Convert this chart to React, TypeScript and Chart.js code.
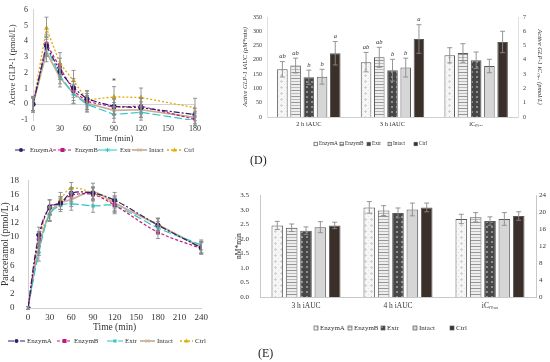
import React, { useEffect, useRef } from "react";
import { Chart, registerables } from "chart.js";
Chart.register(...registerables);

const FONT = "'Liberation Serif', 'Times New Roman', serif";
const TXT = "#333333";

const SERIES = ["EnzymA", "EnzymB", "Extr", "Intact", "Ctrl"];

// ---- Panel C: active GLP-1 (pmol/L) over time
const glpTimes = [0, 15, 30, 45, 60, 90, 120, 180];
const glpEnzymA = [0, 3.72, 2.07, 1.04, 0.33, -0.14, -0.22, -0.65];
const glpEnzymB = [0, 3.85, 2.33, 0.84, 0.18, -0.18, -0.12, -0.96];
const glpExtr = [0, 3.64, 1.8, 0.63, 0.0, -0.65, -0.51, -1.04];
const glpIntact = [0, 3.3, 1.7, 0.67, 0.06, -0.39, -0.35, -0.84];
const glpCtrl = [0, 4.83, 2.58, 1.5, 0.27, 0.47, 0.43, -0.22];
const glpEnzymAErr = [0.5, 0.6, 0.5, 0.6, 0.5, 0.5, 0.6, 0.4];
const glpEnzymBErr = [0.4, 0.6, 0.6, 0.6, 0.5, 0.5, 0.5, 0.4];
const glpExtrErr = [0.4, 0.6, 0.5, 0.6, 0.5, 0.5, 0.5, 0.3];
const glpIntactErr = [0.4, 0.6, 0.6, 0.6, 0.5, 0.5, 0.5, 0.4];
const glpCtrlErr = [0.5, 0.7, 0.7, 0.65, 0.6, 0.65, 0.6, 0.6];

// ---- Panel E (line): paracetamol (pmol/L) over time
const parTimes = [0, 15, 30, 45, 60, 90, 120, 180, 240];
const parEnzymA = [0, 10.3, 14.2, 14.8, 16.2, 16.2, 15.2, 11.7, 8.5];
const parEnzymB = [0, 9.7, 14.3, 14.8, 15.9, 16.0, 14.5, 10.7, 8.4];
const parExtr = [0, 7.8, 13.2, 14.5, 14.7, 14.4, 14.4, 11.3, 8.9];
const parIntact = [0, 8.5, 13.3, 14.8, 15.3, 16.4, 14.8, 11.7, 8.6];
const parCtrl = [0, 9.8, 13.2, 15.3, 16.9, 16.2, 14.7, 11.8, 8.5];
const parEnzymAErr = [0.2, 1.1, 1.0, 0.9, 0.8, 0.8, 1.1, 0.9, 0.9];
const parEnzymBErr = [0.2, 1.0, 1.0, 0.9, 0.9, 0.9, 1.0, 0.9, 0.8];
const parExtrErr = [0.2, 1.2, 0.9, 0.9, 0.9, 0.9, 1.1, 0.9, 0.7];
const parIntactErr = [0.2, 1.1, 1.0, 0.9, 1.0, 1.2, 1.0, 0.9, 0.8];
const parCtrlErr = [0.2, 1.0, 1.0, 1.0, 0.8, 0.9, 1.1, 0.9, 0.8];

// ---- Panel D (bars): active GLP-1 iAUC (left axis) and iCmax (right axis)
const dCategories = ["2 h iAUC", "3 h iAUC", "iCₘₐₓ"];
const dAuc2h = [167, 180, 139, 141, 223];
const dAuc2hErr = [27, 26, 25, 26, 41];
const dAuc3h = [192, 209, 164, 173, 273];
const dAuc3hErr = [34, 35, 38, 33, 50];
const dCmax = [4.32, 4.48, 3.97, 3.57, 5.25];
const dCmaxErr = [0.53, 0.65, 0.58, 0.47, 0.75];
const dLetters2h = ["ab", "ab", "b", "b", "a"];
const dLetters3h = ["ab", "ab", "b", "b", "a"];

// ---- Panel E (bars): paracetamol iAUC (left axis) and iCmax (right axis)
const eCategories = ["3 h iAUC", "4 h iAUC", "iCₘₐₓ"];
const eAuc3h = [2.46, 2.38, 2.28, 2.4, 2.46];
const eAuc3hErr = [0.14, 0.13, 0.13, 0.19, 0.11];
const eAuc4h = [3.08, 2.97, 2.89, 3.01, 3.08];
const eAuc4hErr = [0.2, 0.17, 0.17, 0.22, 0.15];
const eCmax = [18.4, 18.8, 17.9, 18.4, 19.1];
const eCmaxErr = [1.1, 1.1, 1.0, 1.5, 1.0];

// ---- styles
const COLORS = ["#2e1e6b", "#c0187f", "#2fc6c6", "#c6ae95", "#e2aa00"];
const DASHES = [[6, 2, 2, 2], [3, 2], [8, 3], [], [2, 2]];
const MARKERS = ["circle", "rect", "star", "crossRot", "triangle"];
const WIDTHS = [1.2, 1.2, 1.2, 1.7, 1.3];

function font(size: number, style = "normal") {
  return { family: FONT, size, style, lineHeight: 1.2 };
}

function drawMarker(ctx: any, style: string, x: number, y: number, r: number, color: string) {
  ctx.save();
  ctx.setLineDash([]);
  ctx.fillStyle = color;
  ctx.strokeStyle = color;
  ctx.lineWidth = 1;
  ctx.beginPath();
  if (style === "circle") {
    ctx.arc(x, y, r, 0, Math.PI * 2);
    ctx.fill();
  } else if (style === "rect") {
    ctx.fillRect(x - r, y - r, 2 * r, 2 * r);
  } else if (style === "triangle") {
    ctx.moveTo(x, y - r * 1.2);
    ctx.lineTo(x + r * 1.1, y + r * 0.8);
    ctx.lineTo(x - r * 1.1, y + r * 0.8);
    ctx.closePath();
    ctx.fill();
  } else if (style === "star") {
    ctx.moveTo(x - r, y); ctx.lineTo(x + r, y);
    ctx.moveTo(x, y - r); ctx.lineTo(x, y + r);
    const d = r * 0.7;
    ctx.moveTo(x - d, y - d); ctx.lineTo(x + d, y + d);
    ctx.moveTo(x - d, y + d); ctx.lineTo(x + d, y - d);
    ctx.stroke();
  } else {
    const d = r * 0.9;
    ctx.moveTo(x - d, y - d); ctx.lineTo(x + d, y + d);
    ctx.moveTo(x - d, y + d); ctx.lineTo(x + d, y - d);
    ctx.stroke();
  }
  ctx.restore();
}

function makePatterns(): any[] {
  const mk = (w: number, h: number, draw: (x: CanvasRenderingContext2D) => void) => {
    const c = document.createElement("canvas");
    c.width = w; c.height = h;
    const x = c.getContext("2d")!;
    draw(x);
    return x.createPattern(c, "repeat");
  };
  const a = mk(6, 6, (x) => {
    x.fillStyle = "#f6f6f6"; x.fillRect(0, 0, 6, 6);
    x.fillStyle = "#d2d2d2";
    x.fillRect(3, 2, 1, 1); x.fillRect(2, 3, 3, 1); x.fillRect(3, 4, 1, 1);
    x.fillStyle = "#e4e4e4";
    x.fillRect(0, 0, 1, 1);
  });
  const b = mk(4, 6, (x) => {
    x.fillStyle = "#eeeeee"; x.fillRect(0, 0, 4, 6);
    x.fillStyle = "#959595"; x.fillRect(0, 0, 4, 1);
    x.fillStyle = "#bababa"; x.fillRect(0, 3, 4, 1);
  });
  const c = mk(5, 5, (x) => {
    x.fillStyle = "#474747"; x.fillRect(0, 0, 5, 5);
    x.fillStyle = "#8e8e8e"; x.fillRect(1, 1, 2, 2);
  });
  return [a, b, c, "#d6d6d6", "#3a2f29"];
}

// error bars from dataset "errors" arrays
const errorBarPlugin = {
  id: "errbars",
  afterDatasetsDraw(chart: any) {
    const ctx = chart.ctx;
    const cap = chart.options.plugins.errbars?.cap ?? 2;
    ctx.save();
    ctx.strokeStyle = "#8a8a8a";
    ctx.lineWidth = 0.9;
    ctx.setLineDash([]);
    chart.data.datasets.forEach((ds: any, di: number) => {
      if (!ds.errors) return;
      const meta = chart.getDatasetMeta(di);
      const ys = chart.scales[meta.yAxisID];
      meta.data.forEach((el: any, i: number) => {
        const raw = ds.data[i];
        const v = raw == null ? null : typeof raw === "number" ? raw : raw.y;
        const e = ds.errors[i];
        if (v == null || e == null) return;
        const x = el.x;
        const yt = ys.getPixelForValue(v + e);
        const yb = ys.getPixelForValue(v - e);
        ctx.beginPath();
        ctx.moveTo(x, yt); ctx.lineTo(x, yb);
        ctx.moveTo(x - cap, yt); ctx.lineTo(x + cap, yt);
        ctx.moveTo(x - cap, yb); ctx.lineTo(x + cap, yb);
        ctx.stroke();
        if (ds.letters && ds.letters[i]) {
          ctx.save();
          ctx.fillStyle = TXT;
          ctx.font = `italic 6.5px ${FONT}`;
          ctx.textAlign = "center";
          ctx.textBaseline = "bottom";
          ctx.fillText(ds.letters[i], x, yt - 2);
          ctx.restore();
        }
      });
    });
    ctx.restore();
  },
};

function lineLegend(ctx: any, y: number, items: number[][], size: number) {
  SERIES.forEach((name, i) => {
    const [x1, x2, tx] = items[i];
    ctx.save();
    ctx.strokeStyle = COLORS[i];
    ctx.lineWidth = WIDTHS[i];
    ctx.setLineDash(DASHES[i]);
    ctx.beginPath();
    ctx.moveTo(x1, y); ctx.lineTo(x2, y);
    ctx.stroke();
    ctx.restore();
    drawMarker(ctx, MARKERS[i], (x1 + x2) / 2, y, 2, COLORS[i]);
    ctx.save();
    ctx.fillStyle = TXT;
    ctx.font = `${size}px ${FONT}`;
    ctx.textBaseline = "middle";
    ctx.fillText(name, tx, y);
    ctx.restore();
  });
}

function barLegend(ctx: any, y: number, xs: number[], size: number, box: number, off: number, pats: any[]) {
  SERIES.forEach((name, i) => {
    const x = xs[i];
    ctx.save();
    ctx.fillStyle = pats[i];
    ctx.fillRect(x, y - box / 2, box, box);
    ctx.strokeStyle = "#5a5a5a";
    ctx.lineWidth = 0.7;
    ctx.strokeRect(x, y - box / 2, box, box);
    ctx.fillStyle = TXT;
    ctx.font = `${size}px ${FONT}`;
    ctx.textBaseline = "middle";
    ctx.fillText(name, x + off, y);
    ctx.restore();
  });
}

function lineDatasets(times: number[], series: number[][], errs: number[][], tension: number) {
  return SERIES.map((name, i) => ({
    label: name,
    data: times.map((t, j) => ({ x: t, y: series[i][j] })),
    errors: errs[i],
    borderColor: COLORS[i],
    backgroundColor: COLORS[i],
    borderDash: DASHES[i],
    borderWidth: WIDTHS[i],
    pointStyle: MARKERS[i],
    pointRadius: 2.2,
    pointBorderWidth: 1,
    tension,
  }));
}

function configC(): any {
  return {
    type: "line",
    data: {
      datasets: lineDatasets(
        glpTimes,
        [glpEnzymA, glpEnzymB, glpExtr, glpIntact, glpCtrl],
        [glpEnzymAErr, glpEnzymBErr, glpExtrErr, glpIntactErr, glpCtrlErr],
        0
      ),
    },
    options: {
      animation: false,
      responsive: true,
      maintainAspectRatio: false,
      layout: { padding: { left: 8, top: 6, right: 15, bottom: 18 } },
      plugins: { legend: { display: false }, tooltip: { enabled: false }, errbars: { cap: 2 } },
      scales: {
        x: {
          type: "linear", min: 0, max: 180,
          ticks: { stepSize: 30, font: font(8), color: TXT, padding: 4, autoSkip: false },
          grid: { display: false, drawTicks: false },
          border: { display: false },
          title: { display: true, text: "Time (min)", font: font(8.5), color: TXT, padding: 0 },
          afterFit: (s: any) => { s.height = 24; },
        },
        y: {
          min: -1, max: 6,
          ticks: { stepSize: 1, font: font(8), color: TXT, padding: 5, autoSkip: false },
          grid: { drawTicks: false, color: (c: any) => (c.tick && c.tick.value === 0 ? "#d4d4d4" : "rgba(0,0,0,0)") },
          border: { display: true, color: "#d4d4d4" },
          title: { display: true, text: "Active GLP-1 (pmol/L)", font: font(8.5), color: TXT, padding: 0 },
          afterFit: (s: any) => { s.width = 25; },
        },
      },
    },
    plugins: [
      errorBarPlugin,
      {
        id: "decoC",
        afterDraw(chart: any) {
          const ctx = chart.ctx;
          lineLegend(ctx, 150, [[15, 27, 30], [53, 72, 75], [98, 117, 120], [132, 147, 149], [167, 182, 184]], 6.5);
          const xs = chart.scales.x, ys = chart.scales.y;
          ctx.save();
          ctx.fillStyle = TXT;
          ctx.font = `8px ${FONT}`;
          ctx.textAlign = "center";
          ctx.textBaseline = "middle";
          ctx.fillText("*", xs.getPixelForValue(90), ys.getPixelForValue(1.45));
          ctx.restore();
        },
      },
    ],
  };
}

function configEL(): any {
  return {
    type: "line",
    data: {
      datasets: lineDatasets(
        parTimes,
        [parEnzymA, parEnzymB, parExtr, parIntact, parCtrl],
        [parEnzymAErr, parEnzymBErr, parExtrErr, parIntactErr, parCtrlErr],
        0.35
      ),
    },
    options: {
      animation: false,
      responsive: true,
      maintainAspectRatio: false,
      layout: { padding: { left: 10, top: 10, right: 8, bottom: 29 } },
      plugins: { legend: { display: false }, tooltip: { enabled: false }, errbars: { cap: 2 } },
      scales: {
        x: {
          type: "linear", min: 0, max: 240,
          ticks: { stepSize: 30, font: font(9), color: TXT, padding: 4, autoSkip: false },
          grid: { display: false, drawTicks: false },
          border: { display: true, color: "#cfcfcf" },
          title: { display: true, text: "Time (min)", font: font(9.5), color: TXT, padding: 0 },
          afterFit: (s: any) => { s.height = 25; },
        },
        y: {
          min: 0, max: 18,
          ticks: { stepSize: 2, font: font(9), color: TXT, padding: 5, crossAlign: "far", autoSkip: false },
          grid: { display: false, drawTicks: false },
          border: { display: true, color: "#cfcfcf" },
          afterFit: (s: any) => { s.width = 18; },
        },
      },
    },
    plugins: [
      errorBarPlugin,
      {
        id: "decoEL",
        afterDraw(chart: any) {
          const ctx = chart.ctx;
          lineLegend(ctx, 171, [[8, 25, 27], [57, 72, 74], [107, 123, 125], [140, 155, 157], [180, 193, 195]], 7);
          const a = chart.chartArea;
          ctx.save();
          ctx.translate(5.5, (a.top + a.bottom) / 2);
          ctx.rotate(-Math.PI / 2);
          ctx.fillStyle = TXT;
          ctx.font = `9.5px ${FONT}`;
          ctx.textAlign = "center";
          ctx.textBaseline = "middle";
          ctx.fillText("Paracetamol (pmol/L)", 0, 0);
          ctx.restore();
        },
      },
    ],
  };
}

function barDatasets(pats: any[], v1: number[], e1: number[], v2: number[], e2: number[], v3: number[], e3: number[], l1: any[] | null, l2: any[] | null, barPct: number, catPct: number) {
  const common = (i: number) => ({
    backgroundColor: pats[i],
    borderColor: "#5a5a5a",
    borderWidth: 1,
    skipNull: true,
    barPercentage: barPct,
    categoryPercentage: catPct,
  });
  return [
    ...SERIES.map((name, i) => ({
      label: name,
      yAxisID: "y",
      data: [v1[i], v2[i], null],
      errors: [e1[i], e2[i], null],
      letters: l1 && l2 ? [l1[i], l2[i], null] : null,
      ...common(i),
    })),
    ...SERIES.map((name, i) => ({
      label: name,
      yAxisID: "y1",
      data: [null, null, v3[i]],
      errors: [null, null, e3[i]],
      ...common(i),
    })),
  ];
}

function configD(pats: any[]): any {
  return {
    type: "bar",
    data: {
      labels: dCategories,
      datasets: barDatasets(pats, dAuc2h, dAuc2hErr, dAuc3h, dAuc3hErr, dCmax, dCmaxErr, dLetters2h, dLetters3h, 0.8, 0.79),
    },
    options: {
      animation: false,
      responsive: true,
      maintainAspectRatio: false,
      layout: { padding: { left: 11, top: 17, right: 6, bottom: 43 } },
      plugins: { legend: { display: false }, tooltip: { enabled: false }, errbars: { cap: 2.5 } },
      scales: {
        x: {
          ticks: { font: font(6.5), color: TXT, padding: 3 },
          grid: { display: false, drawTicks: false },
          border: { display: true, color: "#d0d0d0" },
          afterFit: (s: any) => { s.height = 12; },
        },
        y: {
          position: "left", min: 0, max: 350,
          ticks: { stepSize: 50, font: font(6), color: TXT, padding: 5, autoSkip: false },
          grid: { display: false, drawTicks: false },
          border: { display: true, color: "#e0e0e0" },
          title: { display: true, text: "Active GLP-1 iAUC (pM*min)", font: font(6.5, "italic"), color: TXT, padding: 0 },
          afterFit: (s: any) => { s.width = 26; },
        },
        y1: {
          position: "right", min: 0, max: 7,
          ticks: { stepSize: 1, font: font(6), color: TXT, padding: 5, autoSkip: false },
          grid: { display: false, drawTicks: false },
          border: { display: true, color: "#e0e0e0" },
          title: { display: true, text: "Active GLP-1 iCₘₐₓ (pmol/L)", font: font(6.5, "italic"), color: TXT, padding: 0 },
          afterFit: (s: any) => { s.width = 26; },
        },
      },
    },
    plugins: [
      errorBarPlugin,
      {
        id: "decoD",
        afterDraw(chart: any) {
          const ctx = chart.ctx;
          barLegend(ctx, 144, [84, 110, 137, 158, 184], 5.3, 3.5, 5, pats);
          ctx.save();
          ctx.fillStyle = "#222";
          ctx.font = `12px ${FONT}`;
          ctx.textBaseline = "middle";
          ctx.fillText("(D)", 20, 161);
          ctx.restore();
        },
      },
    ],
  };
}

function configEB(pats: any[]): any {
  return {
    type: "bar",
    data: {
      labels: eCategories,
      datasets: barDatasets(pats, eAuc3h, eAuc3hErr, eAuc4h, eAuc4hErr, eCmax, eCmaxErr, null, null, 0.81, 0.78),
    },
    options: {
      animation: false,
      responsive: true,
      maintainAspectRatio: false,
      layout: { padding: { left: 4.5, top: 13, right: 0, bottom: 51 } },
      plugins: { legend: { display: false }, tooltip: { enabled: false }, errbars: { cap: 2.5 } },
      scales: {
        x: {
          ticks: { font: font(7.5), color: TXT, padding: 5 },
          grid: { display: false, drawTicks: false },
          border: { display: true, color: "#c8c8c8" },
          afterFit: (s: any) => { s.height = 14; },
        },
        y: {
          position: "left", min: 0, max: 3.5,
          ticks: { stepSize: 0.5, font: font(7), color: TXT, padding: 11, autoSkip: false, callback: (v: any) => Number(v).toFixed(1) },
          grid: { display: false, drawTicks: false },
          border: { display: true, color: "#c8c8c8" },
          title: { display: true, text: "nM*min", font: font(7.5), color: TXT, padding: 0 },
          afterFit: (s: any) => { s.width = 25.5; },
        },
        y1: {
          position: "right", min: 0, max: 24,
          ticks: { stepSize: 4, font: font(7), color: TXT, padding: 3, autoSkip: false },
          grid: { display: false, drawTicks: false },
          border: { display: true, color: "#c8c8c8" },
          afterFit: (s: any) => { s.width = 14; },
        },
      },
    },
    plugins: [
      errorBarPlugin,
      {
        id: "decoEB",
        afterDraw(chart: any) {
          const ctx = chart.ctx;
          barLegend(ctx, 148, [84, 118, 151, 183, 220], 7, 4, 6, pats);
          ctx.save();
          ctx.fillStyle = "#222";
          ctx.font = `12px ${FONT}`;
          ctx.textBaseline = "middle";
          ctx.fillText("(E)", 28, 174);
          ctx.restore();
        },
      },
    ],
  };
}

function ChartBox(props: { left: number; top: number; width: number; height: number; make: () => any }) {
  const ref = useRef<HTMLCanvasElement | null>(null);
  useEffect(() => {
    if (!ref.current) return;
    const chart = new Chart(ref.current, props.make());
    return () => chart.destroy();
  }, []);
  return (
    <div style={{ position: "absolute", left: props.left, top: props.top, width: props.width, height: props.height }}>
      <canvas ref={ref} />
    </div>
  );
}

export default function App() {
  return (
    <div style={{ position: "absolute", left: 0, top: 0, width: 550, height: 362, background: "#fff", overflow: "hidden" }}>
      <ChartBox left={0} top={0} width={210} height={162} make={configC} />
      <ChartBox left={0} top={170} width={212} height={192} make={configEL} />
      <ChartBox left={230} top={0} width={320} height={172} make={() => configD(makePatterns())} />
      <ChartBox left={230} top={180} width={320} height={182} make={() => configEB(makePatterns())} />
    </div>
  );
}
